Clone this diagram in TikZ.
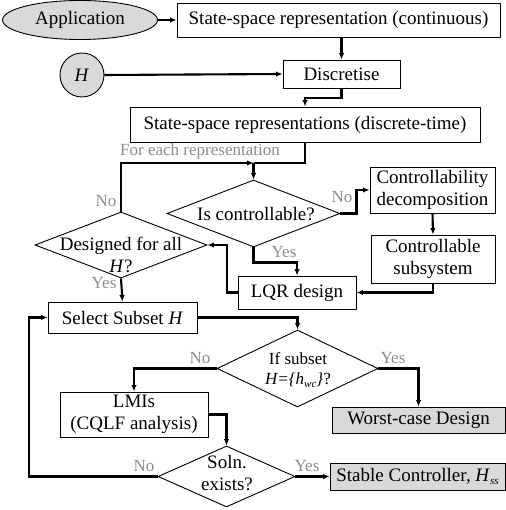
\documentclass[tikz,border=0pt]{standalone}
\usepackage{fontspec}
\setmainfont{Liberation Serif}
\usetikzlibrary{shapes.geometric,arrows.meta,calc}
\definecolor{lblgray}{HTML}{8C8C8C}
\definecolor{boxgray}{HTML}{D9D9D9}
\newcommand{\mainsize}{\fontsize{19bp}{22bp}\selectfont}
\newcommand{\lblsize}{\fontsize{17bp}{20bp}\selectfont}
\newcommand{\subsz}[1]{\raisebox{-3.5bp}{\fontsize{11bp}{11bp}\selectfont\textit{#1}}}
\begin{document}
\begin{tikzpicture}[x=1bp,y=-1bp,
  box/.style={draw,line width=0.9bp,rectangle,inner sep=0pt,font=\mainsize,align=center},
  graybox/.style={box,fill=boxgray},
  dia/.style={draw,line width=0.9bp,diamond,inner sep=0pt},
  txt/.style={inner sep=0pt,font=\mainsize,align=center},
  lbl/.style={inner sep=0pt,font=\lblsize,text=lblgray},
  conn/.style={line width=2.1bp,-{Latex[length=6.5bp,width=5.5bp]}},
  line/.style={line width=2.1bp}]
\useasboundingbox (0,0) rectangle (506,510);

% nodes
\node[ellipse,draw,line width=0.9bp,fill=boxgray,minimum width=155bp,minimum height=39bp,inner sep=0pt,font=\mainsize] (app) at (80,20) {Application};
\node[box,minimum width=323bp,minimum height=34bp] (b1) at (338.5,20) {State-space representation (continuous)};
\node[circle,draw,line width=0.9bp,fill=boxgray,minimum size=44bp,inner sep=0pt,font=\mainsize] (H) at (82,75) {\textit{H}};
\node[box,minimum width=117bp,minimum height=28bp] (disc) at (341.5,74) {Discretise};
\node[box,minimum width=350bp,minimum height=35bp] (b3) at (305,124.5) {State-space representations (discrete-time)};
\node[box,minimum width=125bp,minimum height=46bp] (ctrl) at (432.5,190) {Controllability\\decomposition};
\node[box,minimum width=124bp,minimum height=48bp] (sub) at (433,259) {Controllable\\subsystem};
\node[box,minimum width=118bp,minimum height=33bp] (lqr) at (297,292.5) {LQR design};
\node[box,minimum width=149bp,minimum height=31bp] (sel) at (122.5,317.5) {Select Subset \textit{H}};
\node[box,minimum width=148bp,minimum height=45bp] (lmi) at (134,414.5) {LMIs\\(CQLF analysis)};
\node[graybox,minimum width=173bp,minimum height=26bp] (worst) at (418.5,420) {Worst-case Design};
\node[graybox,minimum width=175bp,minimum height=27bp] (stable) at (417.5,476.5) {Stable Controller, \textit{H}\subsz{ss}};

\node[dia,minimum width=173bp,minimum height=67bp] (isc) at (253.5,213.5) {};
\node[txt] (isc-t) at (256,214) {Is controllable?};
\node[dia,minimum width=172bp,minimum height=66bp] (des) at (121,245) {};
\node[txt] (des-t) at (121,255) {Designed for all\\\textit{H}?};
\node[dia,minimum width=161bp,minimum height=77bp] (ifs) at (297.5,368.5) {};
\node[txt,font=\lblsize] (ifs-t) at (298,370) {If subset\\\textit{H=\{h}\subsz{wc}\textit{\}}?};
\node[dia,minimum width=137bp,minimum height=61bp] (soln) at (226.5,476.5) {};
\node[txt] (soln-t) at (227,473) {Soln.\\exists?};

% labels
\node[lbl] (l-each) at (200,151) {For each representation};
\node[lbl] (l-no1) at (106,201) {No};
\node[lbl] (l-yes1) at (104,283) {Yes};
\node[lbl] (l-no2) at (342,197) {No};
\node[lbl] (l-yes2) at (284,252) {Yes};
\node[lbl] (l-no3) at (200,358) {No};
\node[lbl] (l-yes3) at (393,358) {Yes};
\node[lbl] (l-no4) at (144,466) {No};
\node[lbl] (l-yes4) at (307,466) {Yes};

% coordinates
\coordinate (j) at (253.5,163);
\coordinate (back) at (29,476.5);

% connectors
\draw[conn] (app.east) -- (b1.west);
\draw[conn] (b1.south -| disc.north) -- (disc.north);
\draw[conn] (H.east) -- (disc.west);
\draw[conn] (disc.south) -- ++(0,10) -| (b3.north);
\draw[line] (b3.south) |- (j);
\draw[conn] (des.north) |- (j);
\draw[conn] (j) -- (isc.north);
\draw[conn] (isc.east) -- ++(16,0) |- (ctrl.west);
\draw[conn] (ctrl.south) -- (sub.north);
\draw[conn] (sub.south) |- (lqr.east);
\draw[conn] (isc.south) -- ++(0,15) -| (lqr.north);
\draw[conn] (lqr.west) -- ++(-11,0) |- (des.east);
\draw[conn] (des.south) -- (sel.north);
\draw[conn] (sel.east) -| (ifs.north);
\draw[conn] (ifs.west) -| (lmi.north);
\draw[conn] (ifs.east) -| (worst.north);
\draw[conn] (lmi.east) -| (soln.north);
\draw[conn] (soln.east) -- (stable.west);
\draw[conn] (soln.west) -- (back) |- (sel.west);
\end{tikzpicture}
\end{document}
